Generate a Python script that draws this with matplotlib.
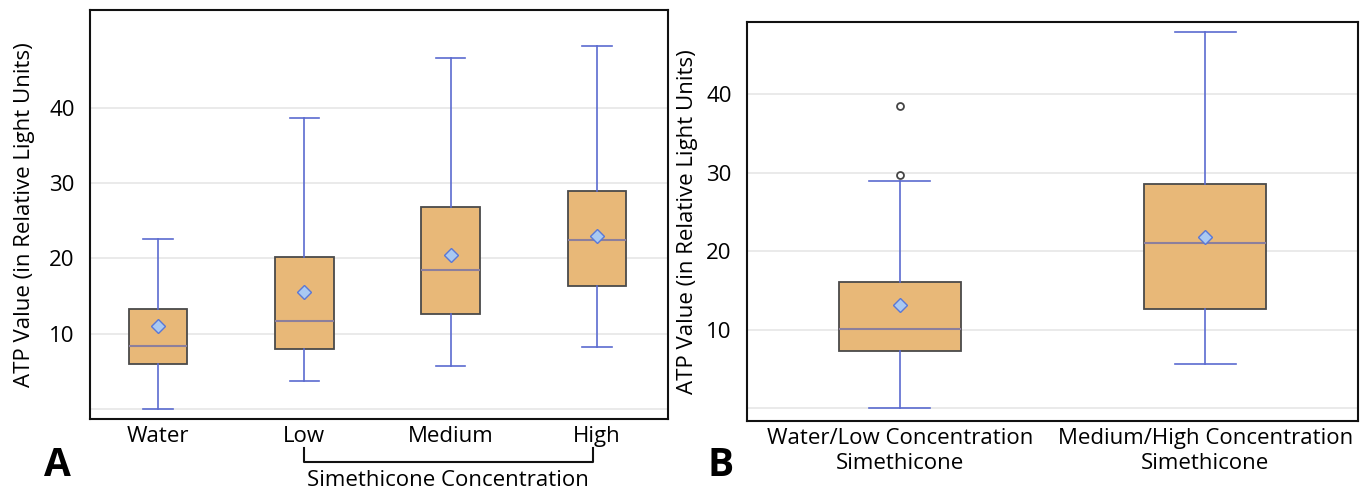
import matplotlib
matplotlib.use("Agg")
import matplotlib.pyplot as plt
from matplotlib.transforms import blended_transform_factory

plt.rcParams['font.family'] = ['Open Sans', 'DejaVu Sans']

# ---- Data ----
cats_a = ["Water", "Low", "Medium", "High"]
whislo_a = [0.0, 3.7, 5.7, 8.2]
q1_a = [6.0, 8.0, 12.6, 16.3]
med_a = [8.4, 11.7, 18.5, 22.4]
q3_a = [13.3, 20.2, 26.8, 29.0]
whishi_a = [22.6, 38.6, 46.6, 48.2]
mean_a = [11.0, 15.5, 20.5, 23.0]

cats_b = ["Water/Low Concentration\nSimethicone", "Medium/High Concentration\nSimethicone"]
whislo_b = [0.0, 5.6]
q1_b = [7.3, 12.6]
med_b = [10.1, 21.0]
q3_b = [16.0, 28.5]
whishi_b = [28.9, 48.0]
mean_b = [13.1, 21.8]
fliers_b = [[38.5, 29.7], []]

yticks = [0, 10, 20, 30, 40]
ytick_labels = ["", "10", "20", "30", "40"]
ylabel = "ATP Value (in Relative Light Units)"

BOX_FILL = "#E8B878"
BOX_EDGE = "#4a4a4a"
WHISK = "#5B6BD0"
MEDIAN = "#8C7F9C"
MEAN_FACE = "#A9C9F2"
MEAN_EDGE = "#5A78D6"


def stats(labels, lo, q1, med, q3, hi, mean, fliers=None):
    out = []
    for i in range(len(labels)):
        out.append(dict(label=labels[i], whislo=lo[i], q1=q1[i], med=med[i],
                        q3=q3[i], whishi=hi[i], mean=mean[i],
                        fliers=(fliers[i] if fliers else [])))
    return out


def draw(ax, st, ylim, xlim, labelpad):
    ax.bxp(st, positions=list(range(1, len(st) + 1)), widths=0.40,
           patch_artist=True, showmeans=True, showfliers=True,
           boxprops=dict(facecolor=BOX_FILL, edgecolor=BOX_EDGE, linewidth=1.3),
           whiskerprops=dict(color=WHISK, linewidth=1.2),
           capprops=dict(color=WHISK, linewidth=1.2),
           capwidths=0.2,
           medianprops=dict(color=MEDIAN, linewidth=1.5),
           meanprops=dict(marker="D", markerfacecolor=MEAN_FACE,
                          markeredgecolor=MEAN_EDGE, markersize=7,
                          markeredgewidth=1.0),
           flierprops=dict(marker="o", markerfacecolor="white",
                           markeredgecolor="#444444", markersize=5,
                           markeredgewidth=1.3))
    ax.set_ylim(*ylim)
    ax.set_xlim(*xlim)
    ax.set_yticks(yticks)
    ax.set_yticklabels(ytick_labels)
    ax.yaxis.grid(True, color="#e6e6e6", linewidth=1.2)
    ax.set_axisbelow(True)
    ax.tick_params(axis="y", length=0, labelsize=16, pad=11)
    ax.tick_params(axis="x", length=0, labelsize=16, pad=5)
    for t in ax.get_xticklabels():
        t.set_linespacing(1.25)
    ax.set_ylabel(ylabel, fontsize=16, labelpad=labelpad)
    for s in ax.spines.values():
        s.set_linewidth(1.5)
        s.set_color("#111111")


fig = plt.figure(figsize=(13.69, 4.91), dpi=100)
axA = fig.add_axes([0.0657, 0.1466, 0.4223, 0.833])
axB = fig.add_axes([0.5457, 0.1426, 0.4463, 0.8124])

draw(axA, stats(cats_a, whislo_a, q1_a, med_a, q3_a, whishi_a, mean_a),
     (-1.33, 53.0), (0.536, 4.485), 10)
draw(axB, stats(cats_b, whislo_b, q1_b, med_b, q3_b, whishi_b, mean_b, fliers_b),
     (-1.66, 49.2), (0.5, 2.5), 6)

# bracket under Low..High
tr = blended_transform_factory(axA.transData, axA.transAxes)
axA.plot([2, 2, 3.97, 3.97], [-0.07, -0.105, -0.105, -0.07], color="#111111",
         linewidth=1.5, transform=tr, clip_on=False)
axA.text(2.98, -0.125, "Simethicone Concentration", transform=tr,
         ha="center", va="top", fontsize=16)

fig.text(0.032, 0.012, "A", fontsize=28, fontweight="bold", ha="left", va="bottom")
fig.text(0.517, 0.012, "B", fontsize=28, fontweight="bold", ha="left", va="bottom")

fig.savefig("out.png", dpi=100)
